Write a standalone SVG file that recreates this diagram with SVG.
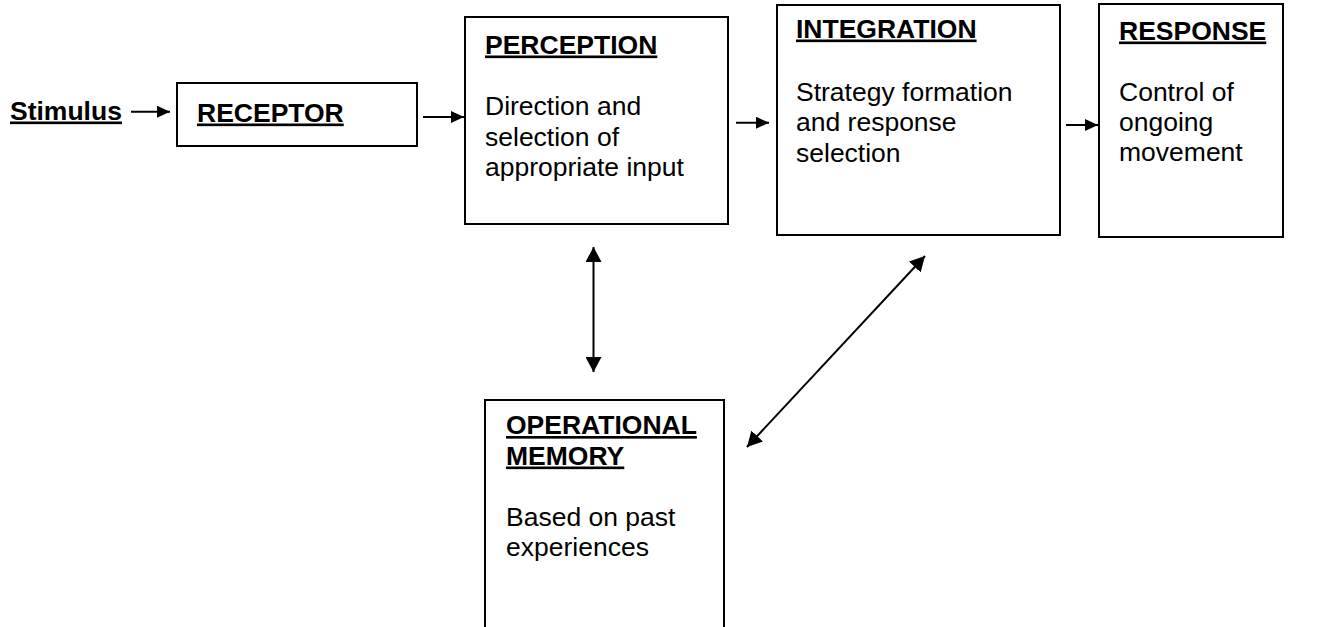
<svg xmlns="http://www.w3.org/2000/svg" width="1323" height="627" viewBox="0 0 1323 627">
<defs>
<style>
.box{fill:#fff;stroke:#000;stroke-width:2}
.t{font-family:"Liberation Sans",Arial,sans-serif;font-size:26.5px;fill:#000}
.h{font-weight:bold;text-decoration:underline}
.c{stroke:#000;stroke-width:2;fill:none}
</style>
<marker id="sa" markerUnits="userSpaceOnUse" markerWidth="14" markerHeight="12" refX="13" refY="6" orient="auto"><path d="M0,0 L13,6 L0,12 Z" fill="#000"/></marker>
<marker id="ba" markerUnits="userSpaceOnUse" markerWidth="16" markerHeight="16" refX="15" refY="8" orient="auto-start-reverse"><path d="M0,0 L15,8 L0,16 Z" fill="#000"/></marker>
</defs>
<g id="stimulus"><text class="t h" x="10" y="119.5">Stimulus</text></g>
<g id="receptor"><rect class="box" x="177" y="83" width="240" height="63"/><text class="t h" x="197" y="121.5">RECEPTOR</text></g>
<g id="perception"><rect class="box" x="465" y="17" width="263" height="207"/>
<text class="t h" x="485" y="53.5">PERCEPTION</text>
<text class="t" x="485" y="115">Direction and</text>
<text class="t" x="485" y="145.5">selection of</text>
<text class="t" x="485" y="176">appropriate input</text></g>
<g id="integration"><rect class="box" x="777" y="5" width="283" height="230"/>
<text class="t h" x="796" y="37.5">INTEGRATION</text>
<text class="t" x="796" y="100.5">Strategy formation</text>
<text class="t" x="796" y="131">and response</text>
<text class="t" x="796" y="161.5">selection</text></g>
<g id="response"><rect class="box" x="1099" y="4" width="184" height="233"/>
<text class="t h" x="1119" y="39.5">RESPONSE</text>
<text class="t" x="1119" y="101">Control of</text>
<text class="t" x="1119" y="130.5">ongoing</text>
<text class="t" x="1119" y="161">movement</text></g>
<g id="memory"><rect class="box" x="485" y="400" width="239" height="240"/>
<text class="t h" x="506" y="434">OPERATIONAL</text>
<text class="t h" x="506" y="464.5">MEMORY</text>
<text class="t" x="506" y="526">Based on past</text>
<text class="t" x="506" y="556">experiences</text></g>
<g id="connectors">
<line class="c" x1="131" y1="111.7" x2="170" y2="111.7" marker-end="url(#sa)"/>
<line class="c" x1="423" y1="117" x2="464" y2="117" marker-end="url(#sa)"/>
<line class="c" x1="736" y1="122.7" x2="769" y2="122.7" marker-end="url(#sa)"/>
<line class="c" x1="1066" y1="125" x2="1098" y2="125" marker-end="url(#sa)"/>
<line class="c" x1="593.5" y1="247" x2="593.5" y2="372" marker-start="url(#ba)" marker-end="url(#ba)"/>
<line class="c" x1="925" y1="256" x2="747" y2="447" marker-start="url(#ba)" marker-end="url(#ba)"/>
</g>
</svg>
